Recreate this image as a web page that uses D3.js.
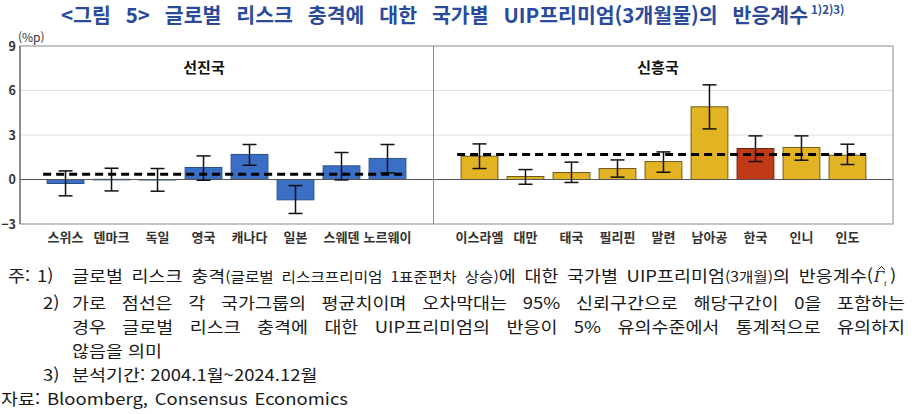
<!DOCTYPE html>
<html lang="ko">
<head>
<meta charset="UTF-8">
<title>글로벌 리스크 충격에 대한 국가별 UIP프리미엄의 반응계수</title>
<script src="https://d3js.org/d3.v7.min.js"></script>
<style>
  html, body { margin: 0; padding: 0; background: #fff; }
  svg { display: block; font-family: "Noto Sans CJK KR", "Noto Sans", sans-serif; }
</style>
</head>
<body>
<svg id="chart" width="912" height="414"></svg>
<script>
// Data
const advNames = ["스위스", "덴마크", "독일", "영국", "캐나다", "일본", "스웨덴", "노르웨이"];
const advCoef  = [-0.27, 0.01, -0.02, 0.81, 1.69, -1.37, 0.92, 1.42];
const advLow   = [-1.10, -0.77, -0.79, -0.05, 0.96, -2.29, -0.03, 0.45];
const advHigh  = [0.58, 0.76, 0.74, 1.59, 2.36, -0.41, 1.82, 2.36];
const advMean  = 0.36;

const emgNames = ["이스라엘", "대만", "태국", "필리핀", "말련", "남아공", "한국", "인니", "인도"];
const emgCoef  = [1.57, 0.20, 0.47, 0.74, 1.21, 4.90, 2.09, 2.16, 1.64];
const emgLow   = [0.74, -0.32, -0.20, 0.16, 0.49, 3.41, 1.21, 1.30, 1.01];
const emgHigh  = [2.40, 0.67, 1.17, 1.32, 1.86, 6.38, 2.94, 2.94, 2.38];
const emgMean  = 1.69;

const yTicks = [-3, 0, 3, 6, 9];
const gridTicks = [3, 6];
const highlight = "한국";

const svg = d3.select("#chart");
const plot = { left: 20, right: 893, top: 46, bottom: 224 };

const GAP = "_gap";
const domain = [...advNames, GAP, ...emgNames];

const x = d3.scaleBand()
    .domain(domain)
    .range([plot.left, plot.right])
    .paddingInner(0.2)
    .paddingOuter(0.59);

const y = d3.scaleLinear()
    .domain([-3, 9])
    .range([plot.bottom, plot.top]);

const rows = [
  ...advNames.map((n, i) => ({ name: n, v: advCoef[i], lo: advLow[i], hi: advHigh[i], grp: "adv" })),
  ...emgNames.map((n, i) => ({ name: n, v: emgCoef[i], lo: emgLow[i], hi: emgHigh[i], grp: "emg" }))
];

// stretch the gaps between words so a line ends at xEnd (local coords)
function justify(sel, xEnd) {
  const node = sel.node();
  const spaces = (node.textContent.match(/ /g) || []).length;
  const right = () => { const b = node.getBBox(); return b.x + b.width; };
  if (right() > xEnd || spaces === 0) {
    const x0 = +sel.attr("x");
    sel.attr("textLength", xEnd - x0).attr("lengthAdjust", "spacingAndGlyphs");
    return;
  }
  let s = 0;
  for (let k = 0; k < 4; k++) {
    s += (xEnd - right()) / spaces;
    sel.style("word-spacing", s + "px");
  }
}

// title
const title = svg.append("text")
    .attr("x", 61).attr("y", 23)
    .attr("fill", "#2a4a9c")
    .attr("font-size", 20.5)
    .attr("font-weight", "bold")
    .text("<그림 5> 글로벌 리스크 충격에 대한 국가별 UIP프리미엄(3개월물)의 반응계수");
justify(title, 808);
svg.append("text")
    .attr("x", 811).attr("y", 14)
    .attr("fill", "#2a4a9c")
    .attr("font-size", 11.5)
    .attr("font-weight", "bold")
    .text("1)2)3)");

// grid lines
svg.append("g").selectAll("line")
  .data(gridTicks).join("line")
    .attr("x1", plot.left).attr("x2", plot.right)
    .attr("y1", d => y(d)).attr("y2", d => y(d))
    .attr("stroke", "#e0e0e0").attr("stroke-width", 1);

// y axis labels
const yAxis = svg.append("g")
    .attr("transform", `translate(${plot.left},0)`)
    .call(d3.axisLeft(y).tickValues(yTicks).tickSize(0).tickPadding(4));
yAxis.select(".domain").remove();
yAxis.selectAll("text")
    .attr("font-family", "\"Noto Sans CJK KR\", sans-serif")
    .attr("font-size", 12.5)
    .attr("font-weight", "bold")
    .attr("fill", "#333");

svg.append("text")
    .attr("x", 18).attr("y", 42)
    .attr("font-size", 12)
    .attr("fill", "#333")
    .text("(%p)");

// bars
svg.append("g").selectAll("rect")
  .data(rows).join("rect")
    .attr("x", d => x(d.name))
    .attr("width", x.bandwidth())
    .attr("y", d => y(Math.max(0, d.v)))
    .attr("height", d => Math.max(0.5, Math.abs(y(d.v) - y(0))))
    .attr("fill", d => d.name === highlight ? "#c13a17" : d.grp === "adv" ? "#3a6fc5" : "#e2b424")
    .attr("stroke", d => d.name === highlight ? "#6a2412" : d.grp === "adv" ? "#2a4f8a" : "#6e5b1c")
    .attr("stroke-width", 1);

// zero line
svg.append("line")
    .attr("x1", plot.left).attr("x2", plot.right)
    .attr("y1", y(0)).attr("y2", y(0))
    .attr("stroke", "#555").attr("stroke-width", 1);

// error bars
const cap = 7;
const eb = svg.append("g").attr("stroke", "#111").attr("stroke-width", 1.5);
rows.forEach(d => {
  const cx = x(d.name) + x.bandwidth() / 2;
  eb.append("line").attr("x1", cx).attr("x2", cx).attr("y1", y(d.lo)).attr("y2", y(d.hi));
  eb.append("line").attr("x1", cx - cap).attr("x2", cx + cap).attr("y1", y(d.lo)).attr("y2", y(d.lo));
  eb.append("line").attr("x1", cx - cap).attr("x2", cx + cap).attr("y1", y(d.hi)).attr("y2", y(d.hi));
});

// group mean dashed lines
const means = [
  { from: advNames[0], to: advNames[advNames.length - 1], v: advMean },
  { from: emgNames[0], to: emgNames[emgNames.length - 1], v: emgMean }
];
svg.append("g").selectAll("line")
  .data(means).join("line")
    .attr("x1", d => x(d.from) - 4)
    .attr("x2", d => x(d.to) + x.bandwidth())
    .attr("y1", d => y(d.v)).attr("y2", d => y(d.v))
    .attr("stroke", "#000").attr("stroke-width", 3)
    .attr("stroke-dasharray", "8,5");

// plot frame + divider
svg.append("rect")
    .attr("x", plot.left).attr("y", plot.top)
    .attr("width", plot.right - plot.left).attr("height", plot.bottom - plot.top)
    .attr("fill", "none").attr("stroke", "#8a8a8a").attr("stroke-width", 1);
svg.append("line")
    .attr("x1", plot.left).attr("x2", plot.left)
    .attr("y1", plot.top).attr("y2", plot.bottom)
    .attr("stroke", "#555");
const divX = x(GAP) + x.bandwidth() / 2;
svg.append("line")
    .attr("x1", divX).attr("x2", divX)
    .attr("y1", plot.top).attr("y2", plot.bottom)
    .attr("stroke", "#8a8a8a");

// panel titles
svg.append("text")
    .attr("x", 204).attr("y", 73)
    .attr("text-anchor", "middle").attr("font-size", 15).attr("font-weight", "bold")
    .attr("fill", "#111").text("선진국");
svg.append("text")
    .attr("x", 658).attr("y", 73)
    .attr("text-anchor", "middle").attr("font-size", 15).attr("font-weight", "bold")
    .attr("fill", "#111").text("신흥국");

// category labels
svg.append("g").selectAll("text")
  .data(rows).join("text")
    .attr("x", d => x(d.name) + x.bandwidth() / 2)
    .attr("y", 242)
    .attr("text-anchor", "middle")
    .attr("font-size", 13)
    .attr("font-weight", "bold")
    .attr("fill", "#333")
    .text(d => d.name);

// notes - drawn in a group widened a little, like the source's wide gothic face
const sx = 1.12;
const notes = svg.append("g").attr("transform", `scale(${sx},1)`);
const noteSize = 16.5;
const noteColor = "#1a1a1a";
function note(xp, yp, txt) {
  return notes.append("text").attr("x", xp / sx).attr("y", yp)
    .attr("font-size", noteSize).attr("fill", noteColor).text(txt);
}
note(8, 282, "주:");
note(37, 282, "1)");
const n1 = notes.append("text").attr("x", 72 / sx).attr("y", 282)
    .attr("font-size", noteSize).attr("fill", noteColor);
n1.append("tspan").text("글로벌 리스크 충격");
n1.append("tspan").attr("font-size", 14).text("(글로벌 리스크프리미엄 1표준편차 상승)");
n1.append("tspan").text("에 대한 국가별 UIP프리미엄");
n1.append("tspan").attr("font-size", 14).text("(3개월)");
n1.append("tspan").text("의 반응계수(");
justify(n1, 873 / sx);

// gamma-hat with subscript i
svg.append("text").attr("x", 874).attr("y", 282)
    .attr("font-family", "\"DejaVu Serif\", serif").attr("font-style", "italic")
    .attr("font-size", 15).attr("fill", noteColor).text("Γ");
svg.append("path")
    .attr("d", "M878,270 L881.5,266.5 L885,270")
    .attr("fill", "none").attr("stroke", noteColor).attr("stroke-width", 0.9);
svg.append("text").attr("x", 884).attr("y", 286)
    .attr("font-family", "\"DejaVu Serif\", serif").attr("font-style", "italic")
    .attr("font-size", 8).attr("fill", noteColor).text("i");
note(890, 282, ")");

note(43, 309, "2)");
justify(note(72, 309, "가로 점선은 각 국가그룹의 평균치이며 오차막대는 95% 신뢰구간으로 해당구간이 0을 포함하는"), 905 / sx);
justify(note(72, 333, "경우 글로벌 리스크 충격에 대한 UIP프리미엄의 반응이 5% 유의수준에서 통계적으로 유의하지"), 905 / sx);
note(72, 357, "않음을 의미");
note(43, 381, "3)");
note(72, 381, "분석기간: 2004.1월~2024.12월");
justify(note(1, 405, "자료: Bloomberg, Consensus Economics"), 348 / sx);
</script>
</body>
</html>
